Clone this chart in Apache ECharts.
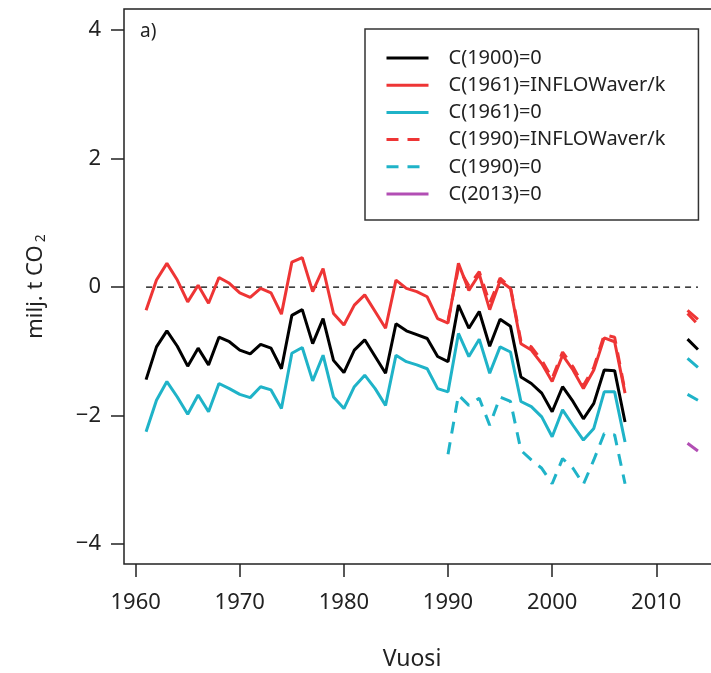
<!DOCTYPE html>
<html>
<head>
<meta charset="utf-8">
<script src="https://cdn.jsdelivr.net/npm/echarts@6/dist/echarts.min.js"></script>
<style>html,body{margin:0;padding:0;background:#fff}#c{width:711px;height:673px}</style>
</head>
<body>
<div id="c"></div>
<script>
// ---- data ----
const years = [1961,1962,1963,1964,1965,1966,1967,1968,1969,1970,1971,1972,1973,1974,1975,1976,1977,1978,1979,1980,1981,1982,1983,1984,1985,1986,1987,1988,1989,1990,1991,1992,1993,1994,1995,1996,1997,1998,1999,2000,2001,2002,2003,2004,2005,2006,2007];
const years1990 = [1990,1991,1992,1993,1994,1995,1996,1997,1998,1999,2000,2001,2002,2003,2004,2005,2006,2007];
const projYears = [2013, 2014];
const xTicks = [1960, 1970, 1980, 1990, 2000, 2010];
const yTicks = [-4, -2, 0, 2, 4];
const zeroLineYears = [1961, 2014];
const zeroLineValues = [0, 0];

const c1900 = [-1.44,-0.93,-0.68,-0.92,-1.23,-0.95,-1.21,-0.78,-0.85,-0.98,-1.04,-0.89,-0.95,-1.27,-0.44,-0.35,-0.88,-0.49,-1.14,-1.33,-0.98,-0.82,-1.08,-1.34,-0.57,-0.68,-0.74,-0.80,-1.08,-1.16,-0.28,-0.64,-0.38,-0.92,-0.50,-0.61,-1.40,-1.50,-1.65,-1.94,-1.55,-1.78,-2.05,-1.81,-1.29,-1.30,-2.10];
const c1961Inflow = [-0.36,0.11,0.37,0.11,-0.23,0.03,-0.25,0.15,0.06,-0.09,-0.16,-0.02,-0.09,-0.42,0.39,0.46,-0.07,0.29,-0.41,-0.59,-0.28,-0.12,-0.38,-0.64,0.11,-0.02,-0.07,-0.15,-0.49,-0.56,0.37,-0.05,0.20,-0.35,0.10,-0.02,-0.88,-0.98,-1.19,-1.47,-1.06,-1.29,-1.58,-1.29,-0.79,-0.85,-1.65];
const c1961Zero = [-2.25,-1.76,-1.47,-1.71,-1.98,-1.68,-1.94,-1.50,-1.58,-1.67,-1.72,-1.55,-1.60,-1.89,-1.03,-0.94,-1.46,-1.06,-1.71,-1.89,-1.55,-1.37,-1.58,-1.84,-1.06,-1.16,-1.21,-1.27,-1.58,-1.63,-0.72,-1.08,-0.81,-1.34,-0.93,-1.01,-1.78,-1.86,-2.02,-2.33,-1.91,-2.15,-2.38,-2.20,-1.63,-1.63,-2.41];
const c1990Inflow = [-0.52,0.30,0.02,0.24,-0.25,0.14,0.00,-0.84,-0.93,-1.14,-1.42,-1.01,-1.24,-1.53,-1.25,-0.74,-0.78,-1.62];
const c1990Zero = [-2.60,-1.68,-1.84,-1.73,-2.15,-1.71,-1.78,-2.54,-2.69,-2.82,-3.06,-2.67,-2.82,-3.07,-2.69,-2.28,-2.30,-3.06];

const proj1900 = [-0.81, -0.97];
const proj1961Inflow = [-0.36, -0.50];
const proj1961Zero = [-1.11, -1.25];
const proj1990Inflow = [-0.41, -0.58];
const proj1990Zero = [-1.67, -1.76];
const proj2013Zero = [-2.43, -2.55];

const names = ['C(1900)=0','C(1961)=INFLOWaver/k','C(1961)=0','C(1990)=INFLOWaver/k','C(1990)=0','C(2013)=0'];

// ---- build ----
function pairs(xs, ys){ return xs.map((x,i)=>[x, ys[i]]); }
function withProj(xs, ys, pys){
  return pairs(xs, ys).concat([[2010, null]]).concat(pairs(projYears, pys));
}
const RED = '#EE3535', CYAN = '#1FB3C8', PURPLE = '#B24EB4', BLACK = '#000000';
const FONT = 'Noto Sans';

function lineSeries(name, data, color, dashed, z){
  return {
    name, type:'line', data, symbol:'none', connectNulls:false, z: z||2,
    lineStyle:{color, width:3, type: dashed ? [12, 9] : 'solid', cap:'butt'},
    itemStyle:{color},
    emphasis:{disabled:true}
  };
}

const chart = echarts.init(document.getElementById('c'), null, {renderer:'canvas'});
chart.setOption({
  animation:false,
  backgroundColor:'#fff',
  textStyle:{fontFamily:FONT},
  title:{text:'a)', left:135, top:17, textStyle:{fontFamily:FONT, fontSize:19, fontWeight:'normal', color:'#222'}},
  grid:{left:124, top:9, width:596, height:555, show:true, borderColor:'#222', borderWidth:1.5,
        backgroundColor:'transparent', containLabel:false, outerBoundsMode:'none'},
  legend:{
    data: names, orient:'vertical', left:365, top:29,
    padding:[19, 33, 16, 20], itemWidth:42, itemHeight:14, itemGap:7.2,
    borderColor:'#333', borderWidth:1.5, backgroundColor:'#fff',
    itemStyle:{color:'rgba(0,0,0,0)', borderColor:'rgba(0,0,0,0)', borderWidth:0, opacity:0},
    lineStyle:{width:3},
    textStyle:{fontFamily:FONT, fontSize:20, color:'#222', padding:[0,0,0,15]},
    selectedMode:false
  },
  xAxis:{
    type:'value', min:1958.88, max:2016.12,
    name:'Vuosi', nameLocation:'middle', nameGap:84,
    nameTextStyle:{fontFamily:FONT, fontSize:23, color:'#222', padding:[0,20,0,0]},
    axisLine:{show:false, onZero:false},
    axisTick:{show:true, customValues:xTicks, length:13, lineStyle:{color:'#222', width:1.5}},
    axisLabel:{customValues:xTicks, margin:28, fontFamily:FONT, fontSize:22, color:'#222',
      formatter:v => String(Math.round(v))},
    splitLine:{show:false}
  },
  yAxis:{
    type:'value', min:-4.31, max:4.33,
    name:'{a|milj. t CO}{b|2}', nameLocation:'middle', nameRotate:90, nameGap:76,
    nameTextStyle:{rich:{
      a:{fontFamily:FONT, fontSize:22, color:'#222'},
      b:{fontFamily:FONT, fontSize:14, color:'#222', padding:[10,0,0,3]}
    }},
    axisLine:{show:false, onZero:false},
    axisTick:{show:true, customValues:yTicks, length:13, lineStyle:{color:'#222', width:1.5}},
    axisLabel:{customValues:yTicks, margin:23, fontFamily:FONT, fontSize:22, color:'#222',
      formatter:v => v < 0 ? '\u2212' + Math.abs(v) : String(v)},
    splitLine:{show:false}
  },
  series:[
    {type:'line', data:pairs(zeroLineYears, zeroLineValues), symbol:'none', silent:true, z:1,
     lineStyle:{color:'#000', width:1.3, type:[6,5]}},
    lineSeries(names[3], withProj(years1990, c1990Inflow, proj1990Inflow), RED, true, 3),
    lineSeries(names[4], withProj(years1990, c1990Zero, proj1990Zero), CYAN, true, 3),
    lineSeries(names[1], withProj(years, c1961Inflow, proj1961Inflow), RED, false, 2),
    lineSeries(names[2], withProj(years, c1961Zero, proj1961Zero), CYAN, false, 2),
    lineSeries(names[0], withProj(years, c1900, proj1900), BLACK, false, 2),
    lineSeries(names[5], pairs(projYears, proj2013Zero), PURPLE, false, 2)
  ]
});
</script>
</body>
</html>
